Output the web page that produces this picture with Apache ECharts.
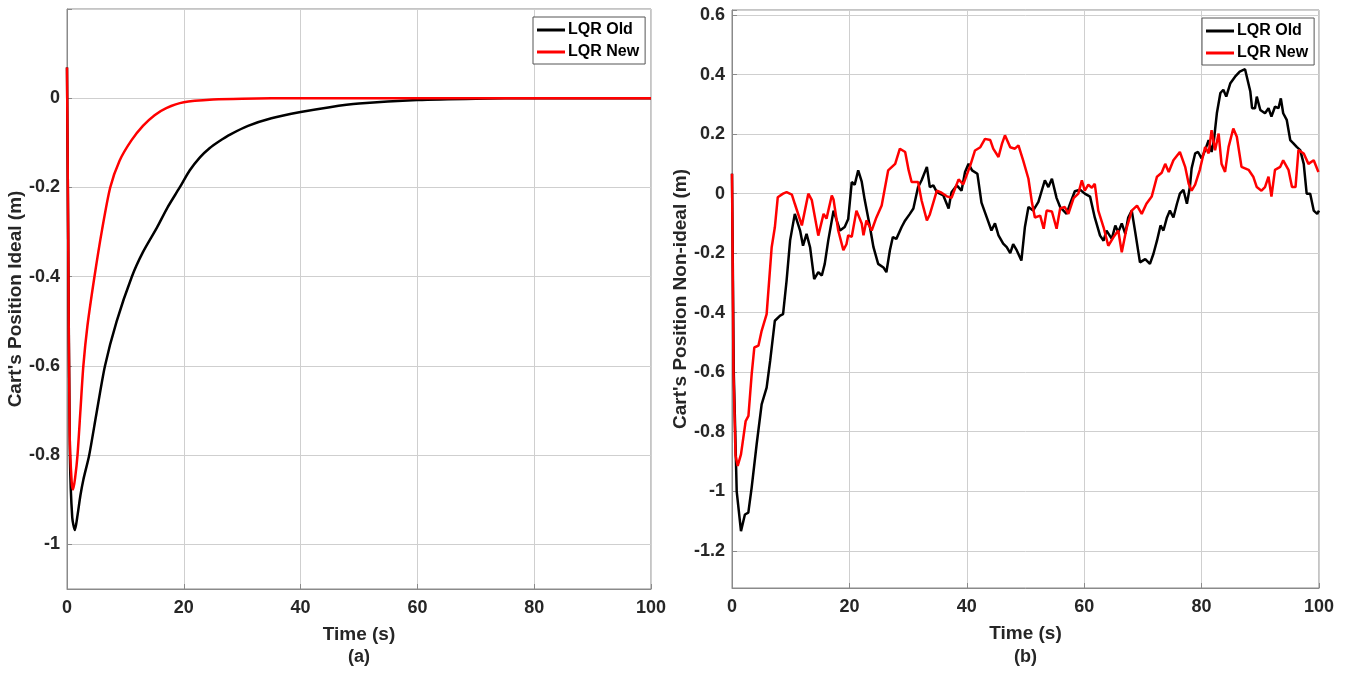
<!DOCTYPE html>
<html>
<head>
<meta charset="utf-8">
<script src="https://cdn.jsdelivr.net/npm/echarts@6/dist/echarts.min.js"></script>
<style>
html, body { margin: 0; padding: 0; background: #fff; }
#main { width: 1349px; height: 675px; }
</style>
</head>
<body>
<div id="main"></div>
<script>
// series names
var seriesNames = ['LQR Old', 'LQR New'];

// (a) ideal case
var tOldA = [0, 0.2, 0.5, 0.9, 1.35, 1.8, 2.3, 2.8, 3.8, 5.0, 6.5, 8.5, 11.1, 13.0, 15.4, 17.2, 19.3, 21.0, 22.8, 24.4, 26.0, 28.0, 31.0, 35.0, 40.0, 45.0, 50.0, 60.0, 70.0, 80.0, 100];
var vOldA = [0.069, -0.3, -0.8, -0.94, -0.968, -0.935, -0.89, -0.855, -0.80, -0.71, -0.60, -0.50, -0.40, -0.345, -0.29, -0.245, -0.20, -0.162, -0.132, -0.112, -0.097, -0.081, -0.062, -0.045, -0.031, -0.02, -0.012, -0.004, -0.001, 0, 0];
var tNewA = [0, 0.2, 0.45, 0.8, 1.05, 1.4, 1.8, 2.3, 2.8, 3.5, 4.7, 6.0, 7.4, 9.0, 11.0, 13.0, 15.0, 17.0, 20.0, 25.0, 30.0, 40.0, 100];
var vNewA = [0.069, -0.3, -0.75, -0.86, -0.877, -0.85, -0.80, -0.70, -0.60, -0.51, -0.40, -0.295, -0.20, -0.14, -0.095, -0.062, -0.038, -0.022, -0.009, -0.003, -0.001, 0, 0];

// (b) non-ideal case
var tOldB = [0, 0.3, 0.8, 1.53, 2.2, 2.78, 3.35, 4.2, 5.05, 5.9, 6.5, 7.3, 8.2, 8.7, 9.3, 9.9, 10.7, 11.6, 12.1, 12.7, 13.3, 14.0, 14.7, 15.3, 15.8, 16.4, 17.3,
  18.4, 19.2, 19.8, 20.4, 20.9, 21.5, 22.1, 22.6, 23.5, 24.1, 24.9, 25.8, 26.3, 26.9, 27.4, 28.0, 28.9, 29.5, 30.3, 30.9, 31.7, 32.3, 33.2, 33.7, 34.3, 34.9, 36.0, 36.9, 37.4, 38.3, 39.1, 39.7,
  40.3, 40.9, 41.8, 42.5, 43.4, 44.2, 44.8, 45.4, 46.2, 46.8, 47.4, 47.9, 48.5, 49.3, 49.9, 50.5, 51.3, 52.2, 53.3, 53.9, 54.5, 55.3, 55.9, 57.0, 57.6, 58.4, 59.3,
  60.1, 61.0, 61.8, 62.7, 63.3, 63.8, 64.7, 65.3, 65.8, 66.4, 67.0, 67.5, 68.1, 68.7, 69.5, 70.4, 71.2, 71.8, 72.4, 73.0, 73.5, 74.1, 74.6, 75.2, 75.8, 76.3, 76.9, 77.5, 78.0, 78.3, 78.9, 79.4,
  80.0, 80.6, 81.2, 81.7, 82.1, 82.6, 83.2, 83.7, 84.2, 84.9, 85.7, 86.5, 87.4, 87.7, 88.3, 88.6, 89.1, 89.4, 90.0, 90.8, 91.4, 91.9, 92.5, 93.1, 93.5, 93.9, 94.5, 95.1, 95.6, 96.2, 96.8, 97.4, 97.9, 98.5, 99.1, 99.7, 100];
var vOldB = [0.067, -0.6, -1.0, -1.134, -1.078, -1.072, -0.988, -0.842, -0.708, -0.652, -0.562, -0.427, -0.41, -0.405, -0.292, -0.157, -0.068, -0.124, -0.175, -0.135, -0.18, -0.287, -0.264, -0.275, -0.236, -0.157, -0.057,
  -0.124, -0.112, -0.085, 0.039, 0.03, 0.078, 0.04, -0.02, -0.112, -0.18, -0.236, -0.248, -0.264, -0.19, -0.146, -0.152, -0.112, -0.09, -0.068, -0.05, 0.022, 0.045, 0.09, 0.022, 0.028, 0.005, -0.006, -0.05, 0.005, 0.028, 0.01, 0.073,
  0.1, 0.078, 0.067, -0.03, -0.08, -0.124, -0.1, -0.14, -0.168, -0.18, -0.2, -0.17, -0.19, -0.225, -0.112, -0.045, -0.057, -0.028, 0.045, 0.022, 0.05, -0.015, -0.045, -0.068, -0.034, 0.008, 0.013,
  0.0, -0.01, -0.08, -0.141, -0.158, -0.124, -0.152, -0.107, -0.13, -0.1, -0.135, -0.08, -0.057, -0.13, -0.231, -0.22, -0.236, -0.202, -0.158, -0.107, -0.124, -0.08, -0.057, -0.08, -0.034, 0.0, 0.013, -0.034, 0.022, 0.085, 0.135, 0.14,
  0.118, 0.146, 0.18, 0.14, 0.18, 0.27, 0.338, 0.349, 0.326, 0.371, 0.393, 0.41, 0.418, 0.414, 0.343, 0.287, 0.287, 0.326, 0.281, 0.27, 0.287, 0.259, 0.292, 0.287, 0.32, 0.27, 0.248, 0.18, 0.17, 0.157, 0.146, 0.1, 0.0, 0.0, -0.057, -0.068, -0.057];
var tNewB = [0, 0.25, 0.6, 0.97, 1.53, 2.33, 2.8, 3.35, 3.8, 4.5, 5.05, 5.9, 6.76, 7.3, 7.8, 8.7, 9.3, 10.2, 10.7, 11.9, 13.0, 13.6, 14.7, 15.6, 16.1,
  17.0, 17.3, 18.1, 18.97, 19.5, 19.8, 20.4, 21.2, 22.1, 22.4, 22.9, 23.8, 24.6, 25.5, 26.6, 27.8, 28.6, 29.5, 30.1, 30.6, 31.7, 32.3, 33.2, 33.7, 34.9, 35.7, 36.6, 37.4, 38.6, 39.4,
  40.6, 41.4, 42.3, 43.1, 44.0, 44.5, 45.4, 46.0, 46.5, 47.4, 48.2, 48.8, 49.6, 50.5, 51.1, 51.6, 52.5, 53.1, 53.6, 54.5, 55.3, 55.9, 56.7, 57.3, 58.2, 59.0, 59.6,
  60.1, 60.7, 61.3, 61.8, 62.4, 63.3, 64.1, 65.0, 65.8, 66.4, 67.2, 68.1, 69.0, 69.8, 70.6, 71.5, 72.4, 73.2, 73.8, 74.4, 75.2, 76.3, 77.2, 77.8, 78.3, 78.9, 79.7,
  80.6, 81.2, 81.7, 82.3, 82.9, 83.4, 84.0, 84.6, 85.4, 86.0, 86.8, 88.0, 88.8, 89.4, 90.2, 90.8, 91.4, 91.9, 92.5, 93.4, 93.9, 94.8, 95.4, 96.0, 96.5, 97.4, 98.2, 99.1, 99.9];
var vNewB = [0.067, -0.6, -0.88, -0.915, -0.876, -0.764, -0.747, -0.607, -0.517, -0.511, -0.461, -0.405, -0.18, -0.113, -0.012, 0.0, 0.005, -0.003, -0.034, -0.107, 0.0, -0.022, -0.141, -0.068, -0.084,
  -0.006, -0.02, -0.124, -0.19, -0.17, -0.14, -0.145, -0.057, -0.1, -0.14, -0.09, -0.124, -0.08, -0.04, 0.078, 0.1, 0.151, 0.14, 0.078, 0.039, 0.039, -0.023, -0.09, -0.07, 0.01, 0.003, -0.009, -0.014, 0.048, 0.031,
  0.095, 0.145, 0.156, 0.184, 0.18, 0.151, 0.123, 0.168, 0.196, 0.156, 0.151, 0.162, 0.112, 0.05, -0.03, -0.08, -0.074, -0.118, -0.057, -0.06, -0.118, -0.05, -0.045, -0.068, -0.015, 0.0, 0.045,
  0.01, 0.03, 0.02, 0.033, -0.057, -0.113, -0.175, -0.146, -0.124, -0.197, -0.118, -0.057, -0.04, -0.068, -0.034, -0.01, 0.057, 0.07, 0.1, 0.073, 0.112, 0.14, 0.09, 0.033, 0.01, 0.03, 0.08,
  0.157, 0.135, 0.213, 0.146, 0.202, 0.1, 0.073, 0.157, 0.219, 0.191, 0.09, 0.08, 0.057, 0.022, 0.01, 0.022, 0.057, -0.01, 0.08, 0.09, 0.112, 0.08, 0.022, 0.022, 0.146, 0.135, 0.1, 0.112, 0.073];

// tick labels
var xTicks = [0, 20, 40, 60, 80, 100];
var yTicksA = [-1, -0.8, -0.6, -0.4, -0.2, 0];
var yTicksB = [-1.2, -1, -0.8, -0.6, -0.4, -0.2, 0, 0.2, 0.4, 0.6];

function pairs(t, v) {
    return t.map(function(x, i) { return [x, v[i]]; });
}

var textColor = '#262626';
var boxColor = '#8a8a8a';
var gridColor = '#cfcfcf';
var fontFamily = '"Liberation Sans", Arial, sans-serif';

function xAxisCfg(idx) {
    return {
        type: 'value', gridIndex: idx, min: 0, max: 100, interval: 20,
        name: 'Time (s)', nameLocation: 'middle', nameGap: 36,
        nameTextStyle: { color: textColor, fontSize: 19, fontWeight: 'bold', fontFamily: fontFamily },
        axisLine: { onZero: false, lineStyle: { color: boxColor } },
        axisTick: { inside: true, length: 5, lineStyle: { color: boxColor } },
        axisLabel: {
            color: textColor, fontSize: 18, fontWeight: 'bold', fontFamily: fontFamily, margin: 10,
            formatter: function(v) { return xTicks.indexOf(v) >= 0 ? String(v) : ''; }
        },
        splitLine: { show: true, lineStyle: { color: gridColor } }
    };
}

function yAxisCfg(idx, name, min, max, labels, split) {
    return {
        type: 'value', gridIndex: idx, min: min, max: max, splitNumber: split,
        minInterval: 0.2, maxInterval: 0.2,
        name: name, nameLocation: 'middle', nameGap: 40,
        nameTextStyle: { color: textColor, fontSize: 19, fontWeight: 'bold', fontFamily: fontFamily },
        axisLine: { show: true, onZero: false, lineStyle: { color: boxColor } },
        axisTick: { inside: true, length: 5, lineStyle: { color: boxColor } },
        axisLabel: {
            color: textColor, fontSize: 18, fontWeight: 'bold', fontFamily: fontFamily, margin: 7,
            formatter: function(v) {
                var ok = labels.some(function(l) { return Math.abs(l - v) < 1e-6; });
                return ok ? String(Math.round(v * 10) / 10) : '';
            }
        },
        splitLine: { show: true, lineStyle: { color: gridColor } }
    };
}

function legendCfg(left, top) {
    return {
        data: seriesNames, orient: 'vertical', left: left, top: top,
        icon: 'rect', itemWidth: 28, itemHeight: 3, itemGap: 6,
        padding: [5, 6, 4, 4],
        backgroundColor: '#fff', borderColor: '#555', borderWidth: 1,
        textStyle: { color: '#000', fontSize: 16, fontWeight: 'bold', fontFamily: fontFamily, padding: [0, 0, 0, -2] },
        selectedMode: false
    };
}

function lineSeries(name, xi, data, color) {
    return {
        name: name, type: 'line', xAxisIndex: xi, yAxisIndex: xi, data: data,
        showSymbol: false, symbol: 'none', smooth: xi === 0 ? 0.25 : false,
        lineStyle: { width: 2.5, color: color }, itemStyle: { color: color },
        animation: false
    };
}

var myChart = echarts.init(document.getElementById('main'));

var option = {
    backgroundColor: '#fff',
    animation: false,
    grid: [
        { left: 67, top: 9, width: 584, height: 580, show: true, borderColor: boxColor, borderWidth: 1, backgroundColor: '#fff' },
        { left: 732, top: 10, width: 587, height: 578, show: true, borderColor: boxColor, borderWidth: 1, backgroundColor: '#fff' }
    ],
    xAxis: [xAxisCfg(0), xAxisCfg(1)],
    yAxis: [
        yAxisCfg(0, "Cart's Position Ideal (m)", -1.1, 0.2, yTicksA, 7),
        yAxisCfg(1, "Cart's Position Non-ideal (m)", -1.325, 0.617, yTicksB, 10)
    ],
    legend: [legendCfg(533, 17), legendCfg(1202, 18)],
    series: [
        lineSeries('LQR Old', 0, pairs(tOldA, vOldA), '#000000'),
        lineSeries('LQR New', 0, pairs(tNewA, vNewA), '#ff0000'),
        lineSeries('LQR Old', 1, pairs(tOldB, vOldB), '#000000'),
        lineSeries('LQR New', 1, pairs(tNewB, vNewB), '#ff0000')
    ],
    graphic: [
        { type: 'text', left: 348, top: 648, style: { text: '(a)', fill: textColor, font: 'bold 18px ' + fontFamily } },
        { type: 'text', left: 1014, top: 648, style: { text: '(b)', fill: textColor, font: 'bold 18px ' + fontFamily } }
    ]
};

myChart.setOption(option);
</script>
</body>
</html>
